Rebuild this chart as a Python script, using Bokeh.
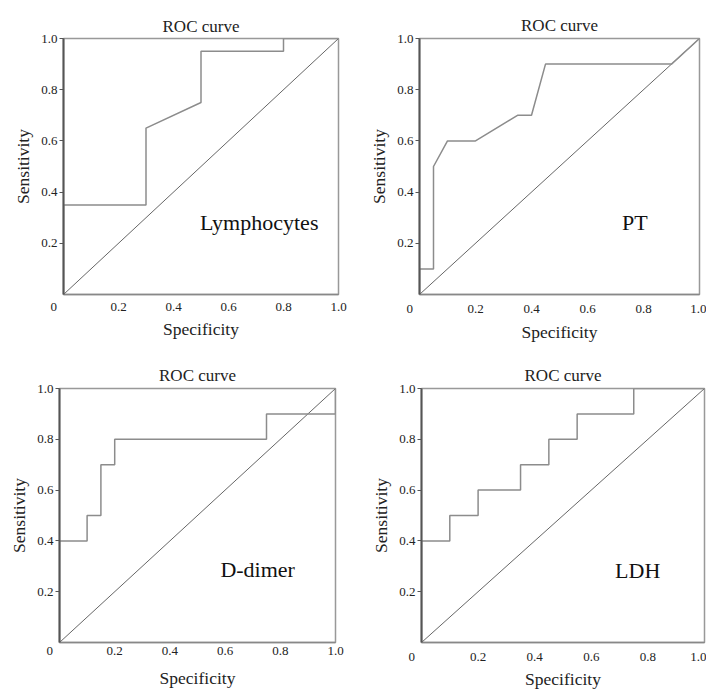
from bokeh.plotting import figure
from bokeh.layouts import column, row
from bokeh.models import Label, FixedTicker, PrintfTickFormatter
from bokeh.embed import file_html
from bokeh.resources import INLINE

# ---- data (x: specificity axis value, y: sensitivity) ----
lymph_x = [0.0, 0.0, 0.30, 0.30, 0.50, 0.50, 0.80, 0.80, 1.0]
lymph_y = [0.0, 0.35, 0.35, 0.65, 0.75, 0.95, 0.95, 1.0, 1.0]

pt_x = [0.0, 0.0, 0.05, 0.05, 0.10, 0.20, 0.35, 0.40, 0.45, 0.90, 1.0]
pt_y = [0.0, 0.10, 0.10, 0.50, 0.60, 0.60, 0.70, 0.70, 0.90, 0.90, 1.0]

dd_x = [0.0, 0.0, 0.10, 0.10, 0.15, 0.15, 0.20, 0.20, 0.75, 0.75, 1.0, 1.0]
dd_y = [0.0, 0.40, 0.40, 0.50, 0.50, 0.70, 0.70, 0.80, 0.80, 0.90, 0.90, 1.0]

ldh_x = [0.0, 0.0, 0.10, 0.10, 0.20, 0.20, 0.35, 0.35, 0.45, 0.45, 0.55, 0.55, 0.75, 0.75, 1.0]
ldh_y = [0.0, 0.40, 0.40, 0.50, 0.50, 0.60, 0.60, 0.70, 0.70, 0.80, 0.80, 0.90, 0.90, 1.0, 1.0]

ref_x = [0.0, 1.0]
ref_y = [0.0, 1.0]

x_ticks = [0.0, 0.2, 0.4, 0.6, 0.8, 1.0]
y_ticks = [0.2, 0.4, 0.6, 0.8, 1.0]
zero_label = "0" + "\u00a0" * 6   # origin label sits left of the corner

title_text = "ROC curve"
xlabel = "Specificity"
ylabel = "Sensitivity"

SERIF = "Liberation Serif"


def make_panel(xs, ys, name, name_x, name_y, width, height, bl, br, bt, bb,
               title_standoff, xlab_standoff, xtick_standoff):
    p = figure(width=width, height=height, output_backend="svg",
               toolbar_location=None, x_range=(0, 1), y_range=(0, 1),
               min_border_left=bl, min_border_right=br,
               min_border_top=bt, min_border_bottom=bb,
               title=title_text)
    p.title.text_font = SERIF
    p.title.text_font_size = "17px"
    p.title.text_font_style = "normal"
    p.title.align = "center"
    p.title.text_color = "#222222"
    p.title.standoff = title_standoff
    p.grid.visible = False
    p.background_fill_color = "white"
    p.border_fill_color = "white"
    p.outline_line_color = "#999999"
    p.outline_line_width = 1.5

    for ax in (p.xaxis[0], p.yaxis[0]):
        ax.formatter = PrintfTickFormatter(format="%.1f")
        ax.minor_tick_line_color = None
        ax.major_label_text_font = SERIF
        ax.major_label_text_font_size = "13px"
        ax.major_label_text_color = "#222222"
        ax.axis_label_text_font = SERIF
        ax.axis_label_text_font_size = "17.5px"
        ax.axis_label_text_font_style = "normal"
        ax.axis_label_text_color = "#222222"

    xa = p.xaxis[0]
    xa.ticker = FixedTicker(ticks=x_ticks)
    xa.major_label_overrides = {0: zero_label}
    xa.axis_label = xlabel
    xa.axis_line_color = "#888888"
    xa.axis_line_width = 1.5
    xa.major_tick_out = 0
    xa.major_tick_in = 0
    xa.major_label_standoff = xtick_standoff
    xa.axis_label_standoff = xlab_standoff

    ya = p.yaxis[0]
    ya.ticker = FixedTicker(ticks=y_ticks)
    ya.axis_label = ylabel
    ya.axis_line_color = "#555555"
    ya.axis_line_width = 2
    ya.major_tick_out = 4
    ya.major_tick_in = 0
    ya.major_tick_line_color = "#555555"
    ya.major_label_standoff = 2
    ya.axis_label_standoff = 5

    p.line(ref_x, ref_y, line_color="#666666", line_width=1)
    p.line(xs, ys, line_color="#8c8c8c", line_width=1.5)

    p.add_layout(Label(x=name_x, y=name_y, text=name, text_font=SERIF,
                       text_font_size="22px", text_color="#111111",
                       text_baseline="alphabetic"))
    return p


p1 = make_panel(lymph_x, lymph_y, "Lymphocytes", 0.496, 0.28,
                355, 348, 63, 17, 38, 54, 6, 2, 4)
p2 = make_panel(pt_x, pt_y, "PT", 0.723, 0.282,
                351, 348, 64, 7, 38, 53, 7, 3, 6)
p3 = make_panel(dd_x, dd_y, "D-dimer", 0.583, 0.286,
                355, 343, 59, 20, 40, 44, 8, 7, 0)
p4 = make_panel(ldh_x, ldh_y, "LDH", 0.684, 0.282,
                351, 343, 66, 2, 37, 43, 8, 2, 6)

layout = column(row(p1, p2, spacing=0), row(p3, p4, spacing=0), spacing=0)

open("out.html", "w").write(file_html(layout, INLINE))
